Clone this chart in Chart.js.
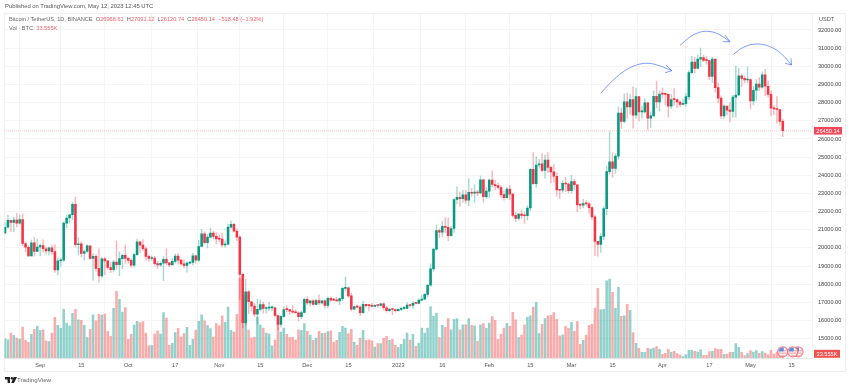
<!DOCTYPE html>
<html><head><meta charset="utf-8">
<style>
html,body{margin:0;padding:0;background:#fff;overflow:hidden}
#wrap{position:relative;width:850px;height:389px}
canvas{position:absolute;left:0;top:0}
.t{position:absolute;font-family:"Liberation Sans",Arial,sans-serif;white-space:pre;line-height:1}
.r{color:#f5606c}
</style></head><body>
<div id="wrap">
<canvas id="c" width="850" height="389"></canvas>
<div class="t" style="left:5px;top:4px;font-size:5.85px;color:#555">Published on TradingView.com, May 12, 2023 12:45 UTC</div>
<div class="t" style="left:9px;top:17px;font-size:5.65px;color:#666">Bitcoin / TetherUS, 1D, BINANCE  O<span class="r">26968.61</span>  H<span class="r">27091.12</span>  L<span class="r">26120.74</span>  C<span class="r">26450.14</span>  <span class="r">−518.48 (−1.92%)</span></div>
<div class="t" style="left:9px;top:26px;font-size:5.65px;color:#666">Vol · BTC  <span class="r">33.555K</span></div>
<svg style="position:absolute;left:5px;top:377px" width="12" height="7" viewBox="0 0 12 7"><path d="M0 0H5V6H2.6V2.4H0Z M8.6 0H12L9 6H6.2Z" fill="#222"/><circle cx="6.9" cy="1.2" r="1.2" fill="#222"/></svg>
<div class="t" style="left:17px;top:377px;font-size:6.2px;color:#666">TradingView</div>
</div>
<script src="https://cdn.jsdelivr.net/npm/chart.js@4/dist/chart.umd.min.js"></script>
<script>
const opens=[20830,21140,21515,21400,21528,21368,21560,20241,20037,19555,20285,19811,
20050,20127,19953,19832,20000,19796,18790,19292,19319,21361,21648,21826,22395,20173,20227,19701,19803,20113,19416,19537,18875,18461,19401,19289,18920,18807,19222,19079,19412,19591,
19423,19310,19056,19629,20337,20158,19956,19532,19417,19439,19131,19060,19155,19375,19176,19068,19262,19549,19327,19123,19041,19164,19204,19570,19330,20080,20771,20295,20595,20818,20635,
20495,20485,20159,20209,21148,21299,20925,20590,18541,15880,17586,17034,16799,16353,16618,16884,16663,16682,16697,16700,16280,15781,16226,16603,16598,16522,16458,16428,16212,16442,
17163,16977,17092,16885,17105,16966,17089,16836,17224,17128,17127,17085,17209,17774,17803,17356,16632,16776,16739,16438,16895,16824,16821,16778,16837,16830,16919,16706,16547,16633,16607,
16542,16616,16672,16674,16851,16831,16950,16943,17127,17178,17440,17943,18846,19930,20954,20871,21185,21134,20677,21071,22667,22783,22707,22917,22632,23060,23009,23074,23022,23743,22827,
23125,23733,23491,23431,23326,22932,22762,23240,22963,21796,21625,21862,21783,21773,22199,24324,23538,24566,24631,24272,24838,24439,24188,23947,23198,23175,23561,23522,
23147,23647,23476,22362,22354,22436,22429,22219,21705,20363,20187,20632,22163,24197,24746,24375,25055,27423,26965,28038,27767,28175,27307,28333,27493,27494,27994,27140,27268,28348,28033,28478,
28465,28452,27800,28175,28170,28033,27906,27948,28334,29653,30235,29884,30399,30485,30318,30316,29445,30397,28823,28245,27262,27817,27591,27514,28307,28422,29473,29340,29248,
29268,28091,28680,29026,28847,29534,28904,28454,27694,27658,27621,26968.61];
const highs=[21380,21800,21520,21690,21900,21820,21880,20340,20140,20430,20580,20490,
20210,20450,20050,20060,20160,20180,19460,19450,21450,21790,21860,22490,22800,20550,20330,19890,20190,20100,19690,19630,19950,19490,19500,19310,19180,19310,20380,19790,19650,20170,
19480,19400,19720,20480,20370,20460,20060,19620,19560,19530,19270,19230,19520,19950,19210,19420,19670,19700,19360,19350,19250,19250,19700,19600,20420,21020,20880,20750,21080,20930,20840,
20700,20800,20390,21300,21480,21360,21050,20670,18590,18270,17660,17050,16950,17200,17140,17020,16750,17010,16820,16750,16300,16280,16750,16810,16610,16820,16600,16490,16530,17250,
17320,17100,17160,17200,17420,17110,17140,17290,17300,17230,17270,17240,17850,18390,17850,17530,16800,16870,16820,17060,16900,16870,16950,16860,16860,16940,16970,16780,16660,16640,16640,
16630,16760,16770,16990,16880,17040,16950,17180,17400,17490,18000,19120,19970,21260,21050,21470,21650,21650,21190,22750,23370,23080,23170,23160,23820,23280,23490,23170,23960,23810,23320,
23800,24250,23720,23580,23440,23160,23350,23450,23010,21940,21910,22090,21990,22320,24370,25250,25020,24880,25190,25120,25250,24480,24600,24130,23220,23690,23880,23600,
24000,23780,23480,22410,22680,22600,22530,22270,21820,20370,20790,22270,24500,26390,25240,25200,27760,27720,28470,28530,28450,28870,28800,28350,27800,28220,28020,27500,28650,29190,28660,
28800,28530,28480,28440,28770,28190,28100,28180,28530,29770,30550,30490,30620,31000,30600,30550,30320,30490,30410,29090,28370,27880,27820,28000,28400,30020,29890,29570,29460,29970,
29320,28880,29270,29380,29690,29840,29170,28660,27840,28330,27650,27091.12];
const lows=[20760,21070,20890,20890,21150,21310,20110,19800,19520,19550,19540,19800,
19560,19750,19650,19600,19640,18650,18510,19000,19290,21100,21360,21560,20050,19620,19500,19320,19750,19370,18230,18710,18120,18360,18530,18810,18630,18680,18810,18470,18840,19150,
19160,18920,18960,19590,19730,19850,19330,19250,19310,19020,18860,18970,18190,19070,18970,19060,19160,19100,19070,18900,18660,19110,19070,19160,19240,20050,20200,20000,20550,20500,20220,
20350,20050,20030,20170,21080,20880,20400,17170,15590,15750,16360,16530,16230,15820,16520,16400,16400,16550,16550,16180,15480,15630,16170,16460,16350,16400,16400,16000,16100,16420,
16870,16790,16860,16880,16870,16900,16680,16730,17060,17090,17070,16870,17090,17660,17280,16530,16580,16700,16260,16400,16720,16560,16750,16790,16730,16790,16590,16460,16490,16330,16470,
16500,16540,16620,16650,16750,16670,16910,16910,17100,17140,17320,17900,18700,19880,20550,20610,20850,20400,20650,20860,22420,22290,22510,22460,22320,22850,22500,22880,22980,22500,22710,
22760,23360,23200,23240,22750,22630,22750,22660,21690,21450,21530,21630,21350,21530,22050,23500,23340,24430,24200,23840,24150,23580,23620,22860,22720,23060,23100,23020,
23020,23200,22000,22150,22200,22300,21900,21580,19570,19550,19750,20450,21820,24050,23900,24120,24880,26580,26880,27130,27370,26600,27130,27000,27150,27420,26510,26630,27240,27720,27540,
28240,27870,27200,27670,27830,27720,27770,27880,27800,28170,29610,29640,29880,29970,30250,30120,29270,29100,28580,28000,27130,27130,27330,26940,27190,27200,28370,28880,29080,29080,
27660,27870,28130,28670,28800,28380,28300,27280,27340,26870,26760,26120.74];
const closes=[21140,21515,21400,21528,21368,21560,20241,20037,19555,20285,19811,20050,
20127,19953,19832,20000,19796,18790,19292,19319,21361,21648,21826,22395,20173,20227,19701,19803,20113,19416,19537,18875,18461,19401,19289,18920,18807,19222,19079,19412,19591,19423,
19310,19056,19629,20337,20158,19956,19532,19417,19439,19131,19060,19155,19375,19176,19068,19262,19549,19327,19123,19041,19164,19204,19570,19330,20080,20771,20295,20595,20818,20635,20495,
20485,20159,20209,21148,21299,20925,20590,18541,15880,17586,17034,16799,16353,16618,16884,16663,16682,16697,16700,16280,15781,16226,16603,16598,16522,16458,16428,16212,16442,17163,
16977,17092,16885,17105,16966,17089,16836,17224,17128,17127,17085,17209,17774,17803,17356,16632,16776,16739,16438,16895,16824,16821,16778,16837,16830,16919,16706,16547,16633,16607,16542,
16616,16672,16674,16851,16831,16950,16943,17127,17178,17440,17943,18846,19930,20954,20871,21185,21134,20677,21071,22667,22783,22707,22917,22632,23060,23009,23074,23022,23743,22827,23125,
23733,23491,23431,23326,22932,22762,23240,22963,21796,21625,21862,21783,21773,22199,24324,23538,24566,24631,24272,24838,24439,24188,23947,23198,23175,23561,23522,23147,
23647,23476,22362,22354,22436,22429,22219,21705,20363,20187,20632,22163,24197,24746,24375,25055,27423,26965,28038,27767,28175,27307,28333,27493,27494,27994,27140,27268,28348,28033,28478,
28465,28452,27800,28175,28170,28033,27906,27948,28334,29653,30235,29884,30399,30485,30318,30316,29445,30397,28823,28245,27262,27817,27591,27514,28307,28422,29473,29340,29248,29268,
28091,28680,29026,28847,29534,28904,28454,27694,27658,27621,26968.61,26450.14];
const volumes=[112,106,145,131,116,110,180,102,91,137,166,184,
160,164,99,95,145,236,189,172,282,203,187,259,282,222,218,189,118,166,251,215,253,249,255,155,126,288,387,340,267,292,
108,137,191,213,205,211,145,70,73,139,157,139,263,232,73,85,147,172,122,141,178,73,108,162,213,251,215,189,170,122,199,
186,244,207,296,160,151,253,464,452,360,162,116,122,238,191,174,145,139,70,104,191,151,174,137,120,120,104,164,160,199,
155,133,102,116,155,143,145,153,157,91,102,149,184,174,141,166,93,73,116,160,102,106,99,64,83,83,114,126,102,108,73,
62,79,108,145,104,137,68,87,174,145,174,298,242,259,118,189,178,228,164,224,228,164,193,193,228,189,186,97,193,199,172,
203,240,218,108,137,174,201,184,265,222,118,133,193,236,244,296,323,141,195,228,244,247,263,224,128,135,184,172,
207,155,211,79,102,133,189,195,290,404,280,282,448,458,381,288,410,242,244,311,276,147,85,56,33,33,56,52,58,66,50,
21,27,50,33,39,25,17,8,19,44,44,39,35,48,15,15,37,39,54,50,50,21,23,33,33,83,62,33,14,25,
43,35,43,27,37,29,19,44,23,35,29,33.555];
const tickDays=[12,26,42,58,73,87,103,117,134,149,165,179,193,207,224,240,254,268];
const tickLabels=["Sep","15","Oct","17","Nov","15","Dec","15","2023","16","Feb","15","Mar","15","Apr","17","May","15"];
const priceTicks=[15000,16000,17000,18000,19000,20000,21000,22000,23000,24000,25000,26000,27000,28000,29000,30000,31000,32000];
const arrow1=[[203,28514],[206.1,29065],[210.7,29708],[215.2,30073],[219.2,30165],[223.2,30018],[227.2,29760]];
const head1=[[225.2,30060],[227.2,29760],[224.9,29647]];
const arrow2=[[230,31157],[232.8,31543],[235.7,31818],[239.1,31928],[243,31780],[247,31356]];
const head2=[[245.3,31725],[247,31356],[244.5,31356]];
const arrow3=[[248.2,30662],[251.6,31047],[256.1,31229],[260.7,31080],[264.6,30678],[268,30073]];
const head3=[[267.8,30441],[268,30073],[265.8,30165]];

const UP="#089981",DOWN="#f23645";
const up=i=>closes[i]>=opens[i];
const idx=closes.map((_,i)=>i);
const curve=(a,t)=>({type:"line",data:a.map(p=>({x:p[0],y:p[1]})),yAxisID:"y",borderColor:"rgba(58,105,255,.72)",borderWidth:0.9,pointRadius:0,tension:t,order:0});

const overlay={id:"overlay",
 beforeDraw(ch){const c=ch.ctx;c.save();c.strokeStyle="#efefef";c.lineWidth=1;c.strokeRect(4.5,13.5,841,358);c.restore();},
 afterDatasetsDraw(ch){
  const c=ch.ctx,y=ch.scales.y,vy=ch.scales.vol,xs=ch.scales.x;
  const tag=(txt,top,h,bg,w)=>{c.fillStyle=bg;c.fillRect(814,top,w,h);c.fillStyle="#fff";c.font="5.6px 'Liberation Sans'";c.textAlign="center";c.textBaseline="middle";c.fillText(txt,814+w/2,top+h/2+.3);};
  const flag=(cx,cy)=>{c.save();c.beginPath();c.arc(cx,cy,5,0,7);c.fillStyle="#fff";c.fill();c.strokeStyle="rgba(242,100,110,.8)";c.lineWidth=1.2;c.stroke();c.beginPath();c.arc(cx,cy,4.2,0,7);c.clip();
    c.fillStyle="#f7a3a8";for(let k=0;k<4;k++)c.fillRect(cx-5,cy-0.4+k*1.7-1.5,10,0.9);c.fillStyle="#5b8de0";c.fillRect(cx-5,cy-5,6,4.6);c.restore();};
  c.save();
  tag(closes[closes.length-1].toFixed(2),y.getPixelForValue(closes[closes.length-1])-3.8,7.6,"#f5475a",28);
  tag(volumes[volumes.length-1].toFixed(3)+"K",349.8,8,"#ef5350",26);
  c.textAlign="left";c.fillStyle="#555";c.font="5.6px 'Liberation Sans'";c.textBaseline="middle";c.fillText("USDT",819,19);
  const fy=vy.getPixelForValue(0)-6.2;
  flag(xs.getPixelForValue(265),fy);flag(xs.getPixelForValue(270.2),fy);flag(xs.getPixelForValue(268.4),fy);
  c.restore();
 }};

new Chart(document.getElementById("c"),{
 type:"bar",
 data:{datasets:[
  {data:idx.map(i=>({x:i,y:volumes[i]})),yAxisID:"vol",grouped:false,barThickness:1.9,order:5,
   backgroundColor:idx.map(i=>up(i)?"rgba(38,166,154,.5)":"rgba(246,90,90,.5)")},
  {type:"line",data:[{x:-1,y:closes[closes.length-1]},{x:280,y:closes[closes.length-1]}],yAxisID:"y",borderColor:"rgba(242,54,69,.38)",borderWidth:0.8,borderDash:[1,1],pointRadius:0,order:4},
  {data:idx.map(i=>({x:i,y:[lows[i],highs[i]]})),yAxisID:"y",grouped:false,barThickness:0.8,order:3,
   backgroundColor:idx.map(i=>up(i)?"rgba(8,153,129,.36)":"rgba(242,54,69,.36)")},
  {data:idx.map(i=>({x:i,y:[opens[i],closes[i]]})),yAxisID:"y",grouped:false,barThickness:1.9,minBarLength:1,order:2,
   backgroundColor:idx.map(i=>up(i)?UP:DOWN)},
  curve(arrow1,.4),curve(head1,0),curve(arrow2,.4),curve(head2,0),curve(arrow3,.4),curve(head3,0)
 ]},
 options:{responsive:false,animation:false,devicePixelRatio:1,
  layout:{padding:{left:4.5,right:4,top:14,bottom:17}},
  plugins:{legend:{display:false},tooltip:{enabled:false}},
  scales:{
   x:{type:"linear",min:-0.17,max:274.96,offset:false,
    afterBuildTicks(s){s.ticks=tickDays.map(v=>({value:v}));},
    afterFit(s){s.height=14;},
    grid:{color:"#f5f5f5",lineWidth:1,drawTicks:false},border:{color:"#e6e6e6"},
    ticks:{autoSkip:false,maxRotation:0,padding:4,color:"#555",font:{family:"'Liberation Sans'",size:5.6},
     callback:(v)=>tickLabels[tickDays.indexOf(v)]}},
   y:{position:"right",min:13938,max:32881,
    afterBuildTicks(s){s.ticks=priceTicks.map(v=>({value:v}));},
    afterFit(s){s.width=34;},
    grid:{color:"#f5f5f5",lineWidth:1,drawTicks:false},border:{color:"#f2f2f2"},
    ticks:{autoSkip:false,padding:6,color:"#444",font:{family:"'Liberation Sans'",size:5.6},
     callback:(v)=>v.toFixed(2)}},
   vol:{display:false,min:0,max:1995}
  }},
 plugins:[overlay]
});
</script>
</body></html>
